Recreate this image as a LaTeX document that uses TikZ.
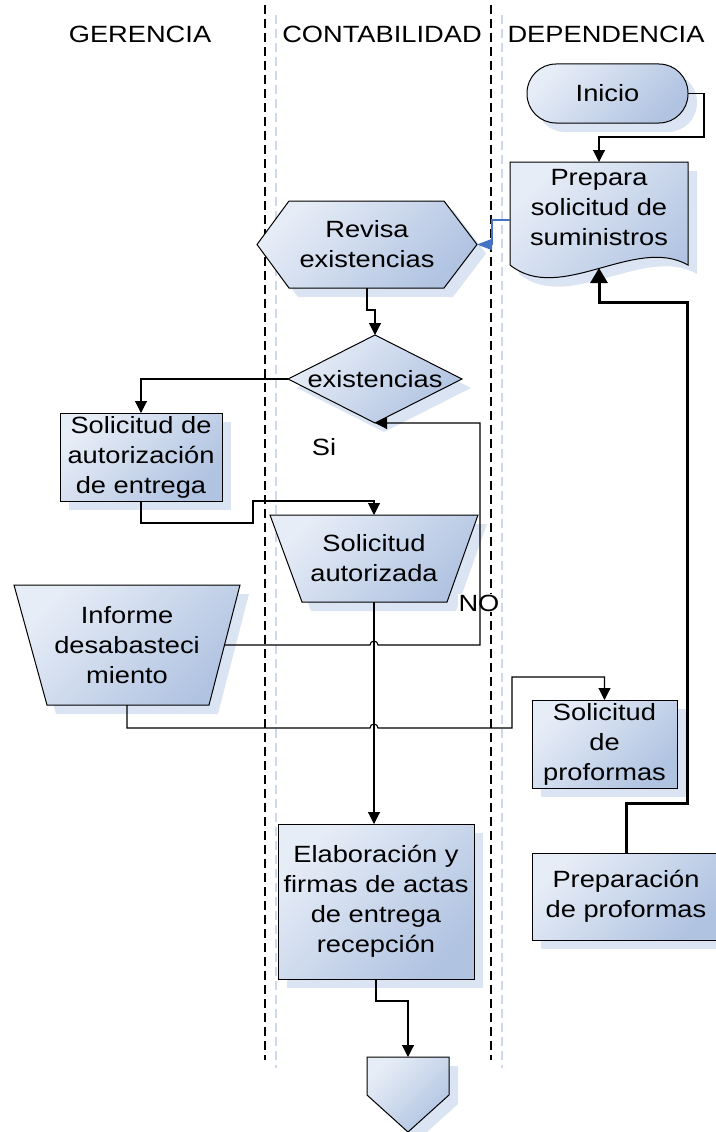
\documentclass[tikz,border=0pt]{standalone}
\usepackage{fontspec}
\setmainfont{Liberation Sans}[FakeStretch=1.16]
\usetikzlibrary{arrows.meta,calc}
\pgfdeclarelayer{bg}
\pgfsetlayers{bg,main}
\definecolor{fillA}{RGB}{231,237,247}
\definecolor{fillB}{RGB}{176,195,225}
\definecolor{shadowc}{RGB}{219,228,242}
\definecolor{linkblue}{RGB}{68,114,196}
\definecolor{laneblue}{RGB}{205,216,236}

% outline with its pale offset shadow
\newcommand\flowshape[2][]{%
  \fill[shadowc,#1,transform canvas={xshift=9pt,yshift=-9pt}] #2;
  \path[body,#1] #2;}

\begin{document}
\begin{tikzpicture}[x=1pt,y=-1pt,
  every node/.style={font=\fontsize{23.5}{30}\selectfont, align=center,
                     inner sep=0pt, outer sep=0pt},
  body/.style={draw=black, line width=1pt, top color=fillA, bottom color=fillB,
               shading angle=45},
  conn/.style={draw=black, line width=1.1pt, -{Triangle[length=12pt,width=12pt]}},
  thickconn/.style={draw=black, line width=3pt, -{Triangle[length=15pt,width=17pt]}},
  blueconn/.style={draw=linkblue, line width=1.6pt, -{Triangle[length=15pt,width=11pt]}},
  lane/.style={draw=black, line width=1.2pt, dash pattern=on 9pt off 5pt},
  lanelight/.style={draw=laneblue, line width=1.2pt, dash pattern=on 9pt off 5pt},
  hop/.style={start angle=180, end angle=0, radius=4pt}
]
\useasboundingbox (0,0) rectangle (715,1132);

% lane headings
\node (hG) at (140,34.5) {GERENCIA};
\node (hC) at (382,34.5) {CONTABILIDAD};
\node (hD) at (606,34.5) {DEPENDENCIA};

% process steps
\node[minimum width=161pt, minimum height=59pt] (ini) at (607.5,93.5) {Inicio};
\node[minimum width=178pt, minimum height=103pt] (prep) at (599,213.5) {};
\node (prepT) at (599,208) {Prepara\\solicitud de\\suministros};
\node[minimum width=220pt, minimum height=87pt] (rev) at (367,244.5) {Revisa\\existencias};
\node[minimum width=174pt, minimum height=88pt] (dia) at (375,379) {existencias};
\node[minimum width=162pt, minimum height=88pt] (autor) at (141,457) {Solicitud de\\autorización\\de entrega};
\node[minimum width=208pt, minimum height=87pt] (aut) at (374,558.5) {Solicitud\\autorizada};
\node[minimum width=226pt, minimum height=120pt] (inf) at (127,645) {Informe\\desabasteci\\miento};
\node[minimum width=145pt, minimum height=88pt] (prof) at (604.5,744) {Solicitud\\de\\proformas};
\node[minimum width=188pt, minimum height=87pt] (prepr) at (626,896.5) {Preparación\\de proformas};
\node[minimum width=196pt, minimum height=155pt] (elab) at (376,901.5) {Elaboración y\\firmas de actas\\de entrega\\recepción};
\node[minimum width=82pt, minimum height=75pt] (off) at (408,1094.5) {};
\node (si) at (324,447) {Si};
\node[fill=white, inner sep=1pt] (no) at (479,603) {NO};

\begin{pgfonlayer}{bg}
  % swimlane separators
  \draw[lanelight] (276,15) -- (276,1068);
  \draw[lanelight] (502,15) -- (502,1068);
  \draw[lane] (265,5) -- (265,1060);
  \draw[lane] (491,5) -- (491,1060);

  \flowshape[rounded corners=29pt]{(ini.south west) rectangle (ini.north east)}
  \flowshape{(prep.south west) -- (prep.north west) -- (prep.north east) -- (prep.south east)
    .. controls ([xshift=-53pt,yshift=30pt]prep.south east) and ([xshift=50pt,yshift=-40pt]prep.south west)
    .. (prep.south west) -- cycle}
  \flowshape{(rev.west) -- ([xshift=32pt]rev.north west) -- ([xshift=-33pt]rev.north east)
    -- (rev.east) -- ([xshift=-33pt]rev.south east) -- ([xshift=32pt]rev.south west) -- cycle}
  \flowshape{(dia.west) -- (dia.north) -- (dia.east) -- (dia.south) -- cycle}
  \flowshape{(autor.south west) rectangle (autor.north east)}
  \flowshape{(aut.north west) -- (aut.north east) -- ([xshift=-31pt]aut.south east)
    -- ([xshift=32pt]aut.south west) -- cycle}
  \flowshape{(inf.north west) -- (inf.north east) -- ([xshift=-31pt]inf.south east)
    -- ([xshift=33pt]inf.south west) -- cycle}
  \flowshape{(prof.south west) rectangle (prof.north east)}
  \flowshape{(prepr.south west) rectangle (prepr.north east)}
  \flowshape{(elab.south west) rectangle (elab.north east)}
  \flowshape{(off.north west) -- (off.north east) -- ([yshift=-38pt]off.north east)
    -- (off.south) -- ([yshift=-38pt]off.north west) -- cycle}
\end{pgfonlayer}

% connectors
\draw[conn] (ini.east) -- ++(16,0) |- ([yshift=25pt]prep.north) -- (prep.north);
\draw[blueconn] ([yshift=-6.5pt]prep.west) -- ++(-18,0) |- (rev.east);
\draw[conn] (rev.south) -- ++(0,22) -| (dia.north);
\draw[conn] (dia.west) -| (autor.north);
\draw[conn] (autor.south) -- ++(0,22) -- ++(112,0) |- ([yshift=14pt]aut.north) -- (aut.north);
\draw[conn] (aut.south) -- (aut.south |- elab.north);
\draw[conn] ([xshift=-16pt]inf.east) -- ($(aut.south |- inf.east)+(-4,0)$) arc[hop]
  -- ++(102,0) |- (dia.south);
\coordinate (infdown) at ($(inf.south)+(0,23)$);
\draw[conn] (inf.south) -- (infdown) -- ($(aut.south |- infdown)+(-4,0)$) arc[hop]
  -- ++(134,0) |- ([yshift=23pt]prof.north) -- (prof.north);
\draw[thickconn] (prepr.north) -- ++(0,-50) -- ++(61,0) |- ([yshift=-37pt]prep.south)
  -- ([yshift=-3pt]prep.south);
\draw[conn] (elab.south) -- ++(0,22) -| (off.north);
\end{tikzpicture}
\end{document}
